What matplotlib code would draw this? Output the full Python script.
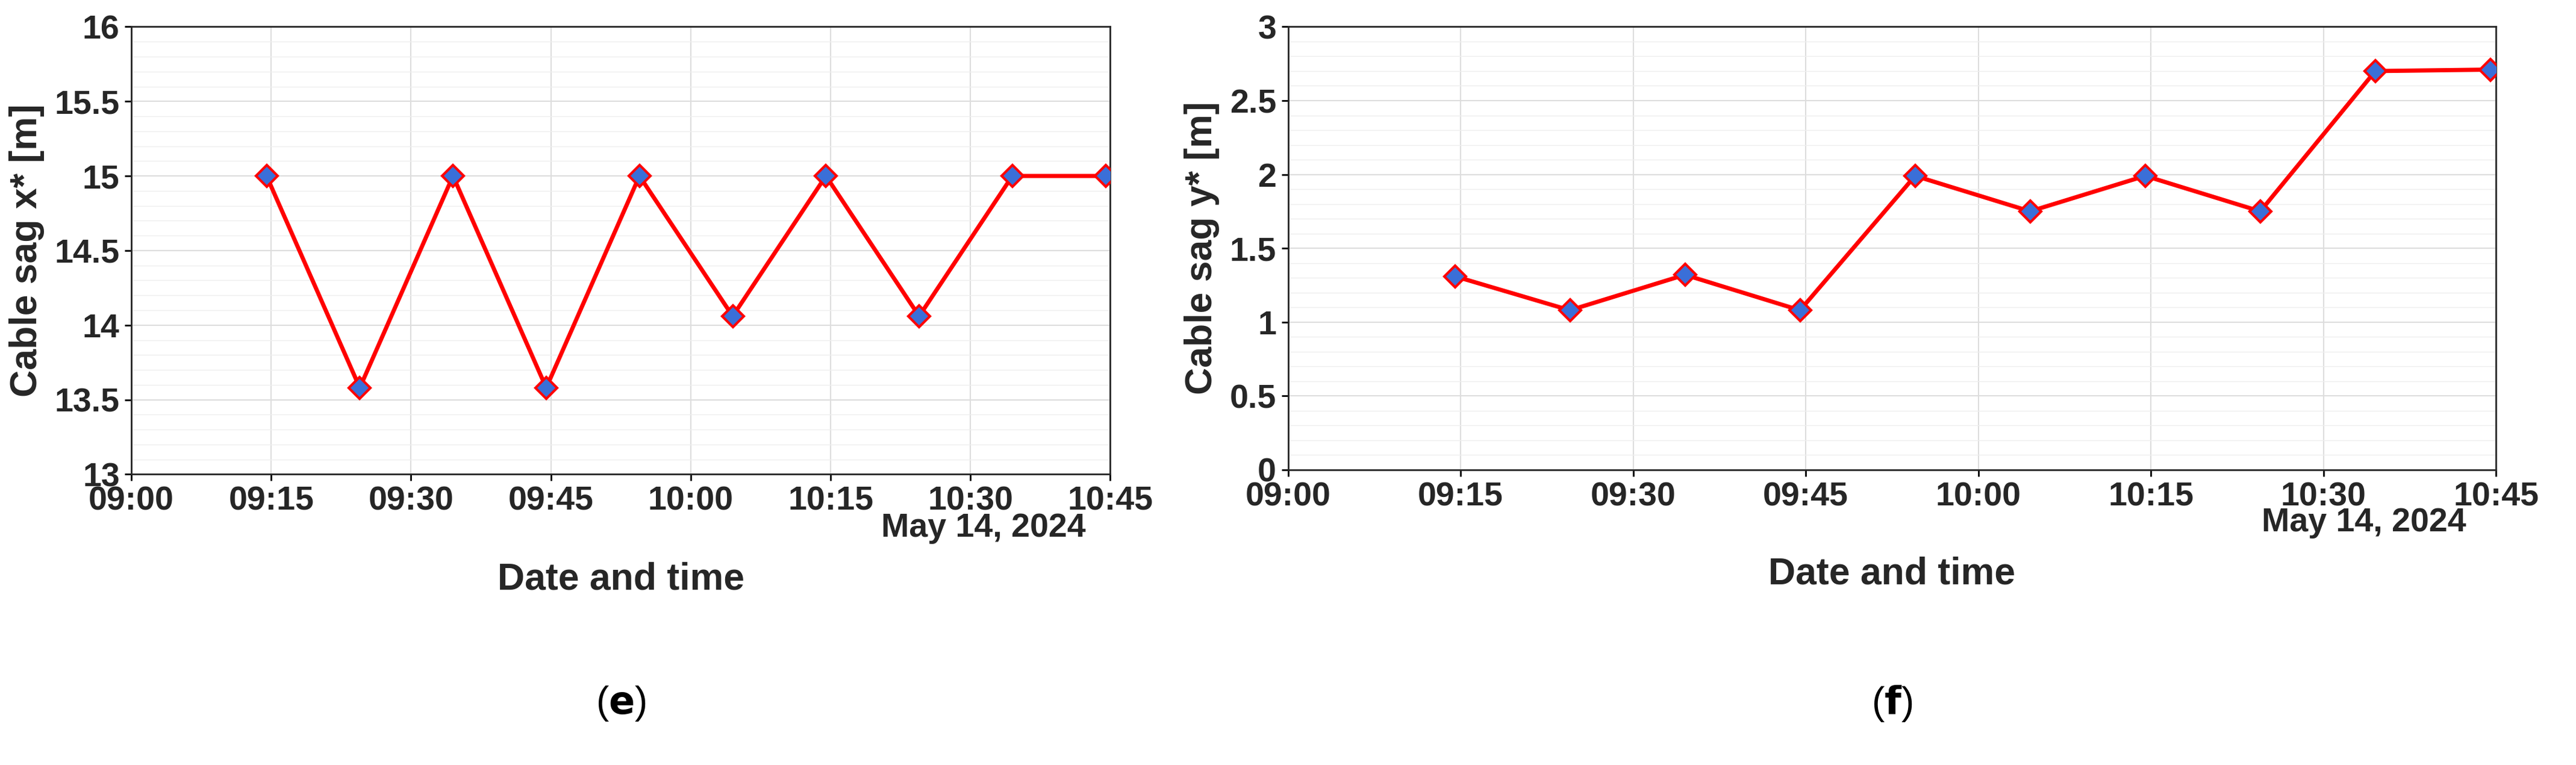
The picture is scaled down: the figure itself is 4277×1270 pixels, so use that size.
import matplotlib
matplotlib.use("Agg")
import matplotlib.pyplot as plt
import numpy as np
import datetime as dt

times = ["09:14:30","09:24:30","09:34:30","09:44:30","09:54:30","10:04:30","10:14:30","10:24:30","10:34:30","10:44:30"]
sag_x = [15.0, 13.58, 15.0, 13.58, 15.0, 14.06, 15.0, 14.06, 15.0, 15.0]
sag_y = [1.31, 1.08, 1.32, 1.08, 1.99, 1.75, 1.99, 1.75, 2.70, 2.71]
tick_labels = ["09:00","09:15","09:30","09:45","10:00","10:15","10:30","10:45"]

base = dt.datetime(2024,5,14)
def t(s):
    h,m,*r = [int(v) for v in s.split(":")]
    return base.replace(hour=h, minute=m, second=(r[0] if r else 0))
tx = [t(s) for s in times]
ticks = [t(s) for s in tick_labels]

plt.rcParams['font.family'] = ['Arial', 'Liberation Sans', 'DejaVu Sans']
fig = plt.figure(figsize=(42.77, 12.7), dpi=100)

def panel(rect, y, ylim, yticks, ylabel, cap, ytl):
    ax = fig.add_axes(rect)
    ax.plot(tx, y, color='red', lw=5, marker='D', ms=18, mfc='#3a6fd8', mec='red', mew=3, zorder=3)
    ax.set_xlim(ticks[0], ticks[-1])
    ax.set_ylim(*ylim)
    ax.set_xticks(ticks)
    ax.set_xticklabels(tick_labels)
    ax.set_yticks(yticks)
    ax.set_yticklabels(ytl)
    ax.yaxis.set_minor_locator(matplotlib.ticker.AutoMinorLocator(5))
    ax.grid(True, which='major', color='#dddddd', lw=1.5)
    ax.grid(True, which='minor', axis='y', color='#eeeeee', lw=1)
    ax.tick_params(labelsize=40, width=2, length=8, pad=6)
    ax.tick_params(which='minor', length=0)
    for lab in ax.get_xticklabels()+ax.get_yticklabels():
        lab.set_fontweight('bold'); lab.set_color('#262626')
    for s in ax.spines.values():
        s.set_color('#262626'); s.set_linewidth(2)
    ax.text(0.5, -0.235, "Date and time", transform=ax.transAxes, ha='center', va='center',
            fontsize=45, fontweight='bold', color='#262626')
    ax.set_ylabel(ylabel, fontsize=45, fontweight='bold', color='#262626', labelpad=12)
    ax.text(0.975, -0.12, "May 14, 2024", transform=ax.transAxes, ha='right', va='center',
            fontsize=40, fontweight='bold', color='#262626')
    cx = rect[0] + rect[2]/2
    fig.text(cx, 0.08, "(" + r"$\mathbf{" + cap + "}$" + ")", ha='center', va='center', fontsize=46)
    return ax

panel([0.051, 0.38, 0.38, 0.585], sag_x, (13, 16), np.arange(13, 16.01, 0.5),
      "Cable sag x* [m]", "e", ["13","13.5","14","14.5","15","15.5","16"])
panel([0.5, 0.386, 0.469, 0.579], sag_y, (0, 3), np.arange(0, 3.01, 0.5),
      "Cable sag y* [m]", "f", ["0","0.5","1","1.5","2","2.5","3"])
fig.savefig("out.png", dpi=100)
